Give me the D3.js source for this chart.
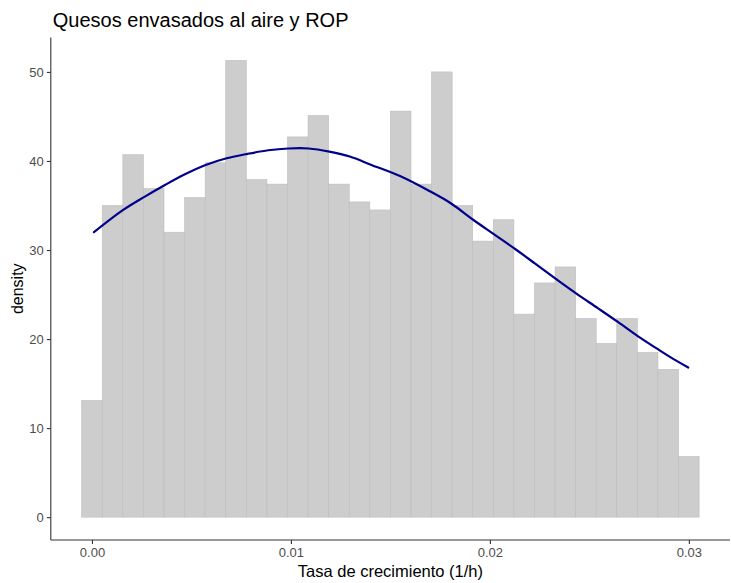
<!DOCTYPE html>
<html>
<head>
<meta charset="utf-8">
<script src="https://cdn.jsdelivr.net/npm/d3@7"></script>
<style>
  html, body { margin: 0; padding: 0; background: #ffffff; }
  svg { display: block; font-family: "Liberation Sans", Arial, sans-serif; }
</style>
</head>
<body>
<svg id="chart" width="731" height="583"></svg>
<script>
// Histogram of growth rates (30 bins, centred from 0 to 0.03) with a density curve
const binCount = 30;
const binCentreMin = 0.0;
const binCentreMax = 0.03;
const densityValues = [
  13.1, 35.0, 40.7, 36.9, 32.0, 35.9, 39.8, 51.3, 37.9, 37.4,
  42.7, 45.1, 37.4, 35.4, 34.5, 45.6, 37.4, 50.0, 35.0, 31.0,
  33.4, 22.8, 26.3, 28.1, 22.3, 19.5, 22.3, 18.5, 16.6, 6.8
];

// Smoothed density curve
const curveX = [
  0.0001, 0.00157, 0.00266, 0.00367, 0.00467, 0.00571, 0.00677, 0.00782, 0.00886, 0.00987,
  0.0109, 0.01193, 0.01296, 0.01405, 0.01548, 0.01698, 0.01807, 0.01916, 0.02025, 0.02134,
  0.02226, 0.02335, 0.02435, 0.02544, 0.02645, 0.02745, 0.02838, 0.02905, 0.02997
];
const curveY = [
  32.0, 34.5, 36.0, 37.3, 38.5, 39.55, 40.3, 40.8, 41.2, 41.4,
  41.4, 41.05, 40.5, 39.55, 38.3, 36.6, 35.2, 33.4, 31.7, 30.0,
  28.5, 26.7, 25.1, 23.45, 21.9, 20.3, 18.95, 18.0, 16.8
];

const xTicks = [0, 0.01, 0.02, 0.03];
const xTickLabels = ["0.00", "0.01", "0.02", "0.03"];
const yTicks = [0, 10, 20, 30, 40, 50];

const titleText = "Quesos envasados al aire y ROP";
const xTitle = "Tasa de crecimiento (1/h)";
const yTitle = "density";

const svg = d3.select("#chart");
const panel = { left: 50.8, right: 730, top: 37.5, bottom: 540 };

const binWidth = (binCentreMax - binCentreMin) / (binCount - 1);
const bins = densityValues.map((v, i) => {
  const c = binCentreMin + i * binWidth;
  return { x0: c - binWidth / 2, x1: c + binWidth / 2, value: v };
});

// Scales with 5% expansion like ggplot defaults
const xLo = bins[0].x0, xHi = bins[bins.length - 1].x1;
const xPad = (xHi - xLo) * 0.05;
const x = d3.scaleLinear().domain([xLo - xPad, xHi + xPad]).range([panel.left, panel.right]);
const yMax = d3.max(densityValues);
const yPad = yMax * 0.05;
const y = d3.scaleLinear().domain([-yPad, yMax + yPad]).range([panel.bottom, panel.top]);

// Bars
svg.append("g").selectAll("rect").data(bins).join("rect")
  .attr("x", d => x(d.x0))
  .attr("width", d => x(d.x1) - x(d.x0))
  .attr("y", d => y(d.value))
  .attr("height", d => y(0) - y(d.value))
  .attr("fill", "#cdcdcd")
  .attr("stroke", "#bdbdbd")
  .attr("stroke-width", 0.6);

// Density curve
const line = d3.line().x(d => x(d[0])).y(d => y(d[1])).curve(d3.curveCatmullRom);
svg.append("path")
  .datum(curveX.map((v, i) => [v, curveY[i]]))
  .attr("d", line)
  .attr("fill", "none")
  .attr("stroke", "#00008b")
  .attr("stroke-width", 2.2)
  .attr("stroke-linecap", "round");

// Axes
const xAxis = d3.axisBottom(x).tickValues(xTicks).tickFormat((d, i) => xTickLabels[i]).tickSize(4).tickPadding(4);
const yAxis = d3.axisLeft(y).tickValues(yTicks).tickFormat(d3.format("d")).tickSize(4).tickPadding(3);

const gx = svg.append("g").attr("transform", `translate(0,${panel.bottom})`).call(xAxis);
const gy = svg.append("g").attr("transform", `translate(${panel.left},0)`).call(yAxis);

[gx, gy].forEach(g => {
  g.select(".domain").attr("stroke", "#333333").attr("stroke-width", 1.1);
  g.selectAll(".tick line").attr("stroke", "#333333").attr("stroke-width", 1.1);
  g.selectAll(".tick text").attr("fill", "#4d4d4d").style("font-size", "13px");
});
gx.select(".domain").attr("d", `M${panel.left},0H${panel.right}`);
gy.select(".domain").attr("d", `M0,${panel.top}V${panel.bottom}`);

// Titles
svg.append("text")
  .attr("x", panel.left + 2)
  .attr("y", 27)
  .attr("fill", "#000000")
  .style("font-size", "20px")
  .text(titleText);

svg.append("text")
  .attr("x", (panel.left + panel.right) / 2)
  .attr("y", 577)
  .attr("text-anchor", "middle")
  .attr("fill", "#000000")
  .style("font-size", "16.5px")
  .text(xTitle);

svg.append("text")
  .attr("transform", `translate(23,${(panel.top + panel.bottom) / 2}) rotate(-90)`)
  .attr("text-anchor", "middle")
  .attr("fill", "#000000")
  .style("font-size", "16px")
  .text(yTitle);
</script>
</body>
</html>
